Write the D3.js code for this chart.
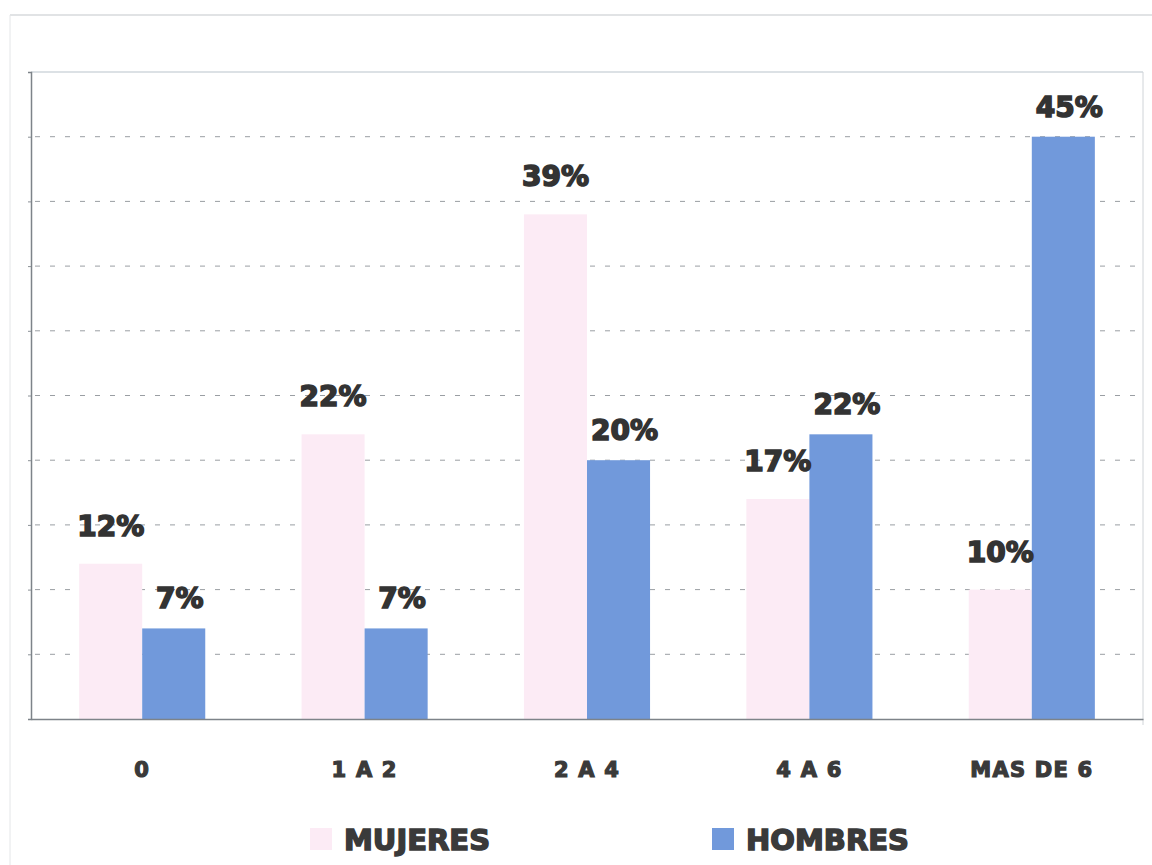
<!DOCTYPE html>
<html>
<head>
<meta charset="utf-8">
<script src="https://cdn.jsdelivr.net/npm/d3@7"></script>
<style>
  html, body { margin: 0; padding: 0; background: #ffffff; }
  svg { display: block; }
</style>
</head>
<body>
<svg id="chart" width="1152" height="865"></svg>
<script>
// Años de experiencia por sexo
const categories = ["0", "1 A 2", "2 A 4", "4 A 6", "MAS DE 6"];
const seriesNames = ["MUJERES", "HOMBRES"];
const mujeres = [12, 22, 39, 17, 10];
const hombres = [7, 7, 20, 22, 45];
const gridTicks = [5, 10, 15, 20, 25, 30, 35, 40, 45];

const colors = { MUJERES: "#fcebf5", HOMBRES: "#7199db" };
const textColor = "#333333";
const labelFont = "'DejaVu Sans', 'Liberation Sans', sans-serif";

const svg = d3.select("#chart");
const plot = { left: 31, right: 1143, top: 72, bottom: 719 };

const rows = categories.map((c, i) => ({
  category: c,
  values: [
    { series: "MUJERES", value: mujeres[i] },
    { series: "HOMBRES", value: hombres[i] }
  ]
}));

const x0 = d3.scaleBand()
  .domain(categories)
  .range([plot.left, plot.right])
  .paddingInner(0.433)
  .paddingOuter(0.2165);

const x1 = d3.scaleBand()
  .domain(seriesNames)
  .range([0, x0.bandwidth()])
  .padding(0);

const y = d3.scaleLinear()
  .domain([0, 50])
  .range([plot.bottom, plot.top]);

// outer frame lines
svg.append("line")
  .attr("x1", 10).attr("x2", 1152).attr("y1", 15).attr("y2", 15)
  .attr("stroke", "#c4c8cc").attr("stroke-width", 1.2);
svg.append("line")
  .attr("x1", 10).attr("x2", 10).attr("y1", 15).attr("y2", 865)
  .attr("stroke", "#e4e6e8").attr("stroke-width", 1);

// plot border (top and right)
svg.append("line")
  .attr("x1", plot.left).attr("x2", plot.right).attr("y1", plot.top).attr("y2", plot.top)
  .attr("stroke", "#b9c3cc").attr("stroke-width", 1.2);
svg.append("line")
  .attr("x1", plot.right).attr("x2", plot.right).attr("y1", plot.top).attr("y2", plot.bottom + 6)
  .attr("stroke", "#d0d4d8").attr("stroke-width", 1);

// dashed gridlines
svg.append("g")
  .selectAll("line")
  .data(gridTicks)
  .join("line")
  .attr("x1", plot.left + 4)
  .attr("x2", plot.right - 2)
  .attr("y1", d => y(d))
  .attr("y2", d => y(d))
  .attr("stroke", "#9a9ea3")
  .attr("stroke-width", 1)
  .attr("stroke-dasharray", "5,10");

// bars
const groups = svg.append("g")
  .selectAll("g")
  .data(rows)
  .join("g")
  .attr("transform", d => `translate(${x0(d.category)},0)`);

groups.selectAll("rect")
  .data(d => d.values)
  .join("rect")
  .attr("x", d => x1(d.series))
  .attr("width", x1.bandwidth())
  .attr("y", d => y(d.value))
  .attr("height", d => y(0) - y(d.value))
  .attr("fill", d => colors[d.series]);

// value labels
groups.selectAll("text")
  .data(d => d.values)
  .join("text")
  .attr("x", d => x1(d.series) + x1.bandwidth() / 2 + (d.series === "HOMBRES" ? 6 : 0))
  .attr("y", d => y(d.value) - (d.series === "HOMBRES" ? 20 : 28))
  .attr("text-anchor", "middle")
  .attr("font-family", labelFont)
  .attr("font-weight", "bold")
  .attr("font-size", 28)
  .attr("fill", textColor)
  .attr("stroke", textColor)
  .attr("stroke-width", 1.6)
  .text(d => d.value + "%");

// axes
const yAxis = d3.axisLeft(y).tickValues(gridTicks).tickSize(3).tickFormat("");
svg.append("g")
  .attr("transform", `translate(${plot.left},0)`)
  .call(yAxis)
  .call(g => g.select(".domain").attr("stroke", "#7d8389").attr("stroke-width", 1.5))
  .call(g => g.selectAll(".tick line").attr("stroke", "#8a9096"));

const xAxis = d3.axisBottom(x0).tickSize(0).tickPadding(43);
svg.append("g")
  .attr("transform", `translate(0,${plot.bottom})`)
  .call(xAxis)
  .call(g => g.select(".domain").attr("stroke", "#7d8389").attr("stroke-width", 1.5))
  .call(g => g.selectAll(".tick text")
    .attr("font-family", labelFont)
    .attr("font-weight", "bold")
    .attr("font-size", 21)
    .attr("letter-spacing", 1.2)
    .attr("fill", "#3a3a3a")
    .attr("stroke", "#3a3a3a")
    .attr("stroke-width", 1.2));

// legend
const legendItems = [
  { name: "MUJERES", x: 310 },
  { name: "HOMBRES", x: 712 }
];
const legend = svg.append("g").selectAll("g")
  .data(legendItems)
  .join("g")
  .attr("transform", d => `translate(${d.x},828)`);
legend.append("rect")
  .attr("width", 22).attr("height", 22)
  .attr("fill", d => colors[d.name]);
legend.append("text")
  .attr("x", 34).attr("y", 22)
  .attr("font-family", labelFont)
  .attr("font-weight", "bold")
  .attr("font-size", 29)
  .attr("fill", "#3a3a3a")
  .attr("stroke", "#3a3a3a")
  .attr("stroke-width", 1.5)
  .text(d => d.name);
</script>
</body>
</html>
